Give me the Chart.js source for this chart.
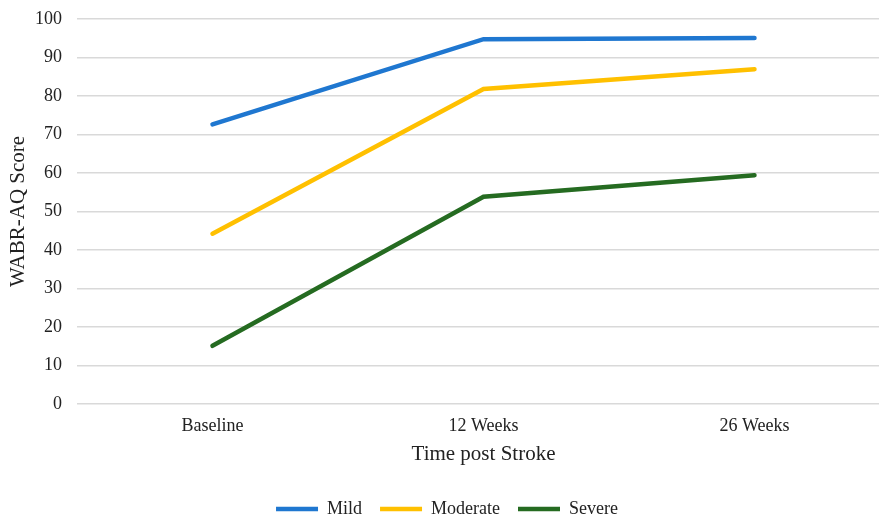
<!DOCTYPE html>
<html>
<head>
<meta charset="utf-8">
<script src="https://cdn.jsdelivr.net/npm/chart.js@4/dist/chart.umd.min.js"></script>
<style>
  html, body { margin: 0; padding: 0; background: #fff; overflow: hidden; }
  #wrap { width: 890px; height: 535px; margin-top: -7px; }
</style>
</head>
<body>
<div id="wrap"><canvas id="chart"></canvas></div>
<script>
const categories = ['Baseline', '12 Weeks', '26 Weeks'];
const mild = [72.6, 94.7, 95.0];
const moderate = [44.2, 81.8, 86.9];
const severe = [15.1, 53.8, 59.4];
const yTicks = [0, 10, 20, 30, 40, 50, 60, 70, 80, 90, 100];

const family = '"Liberation Serif", "Times New Roman", serif';
const tickFont = { family: family, size: 18 };
const titleFont = { family: family, size: 21 };

function series(label, data, color) {
  return {
    label: label,
    data: data,
    borderColor: color,
    backgroundColor: color,
    borderWidth: 4.5,
    borderCapStyle: 'round',
    pointRadius: 0,
    pointHoverRadius: 0,
    tension: 0
  };
}

new Chart(document.getElementById('chart'), {
  type: 'line',
  data: {
    labels: categories,
    datasets: [
      series('Mild', mild, '#1f77d0'),
      series('Moderate', moderate, '#ffc000'),
      series('Severe', severe, '#256b21')
    ]
  },
  options: {
    responsive: true,
    maintainAspectRatio: false,
    animation: false,
    layout: { padding: { left: 4, right: 0, top: 0, bottom: 0 } },
    scales: {
      x: {
        offset: true,
        grid: { display: false },
        border: { display: false },
        ticks: { color: '#222', font: tickFont, padding: 3 },
        title: { display: true, text: 'Time post Stroke', color: '#222', font: titleFont, padding: { top: 0, bottom: 15 } },
        afterFit: scale => { scale.height = 78; }
      },
      y: {
        min: 0,
        max: 100,
        afterBuildTicks: axis => { axis.ticks = yTicks.map(v => ({ value: v })); },
        grid: { color: '#d9d9d9', lineWidth: 1.5, drawTicks: false },
        border: { display: false },
        ticks: { color: '#222', font: tickFont, padding: 15 },
        title: { display: true, text: 'WABR-AQ Score', color: '#222', font: titleFont, padding: { top: 2, bottom: 0 } },
        afterFit: scale => { scale.width = 73; }
      }
    },
    plugins: {
      tooltip: { enabled: false },
      legend: {
        position: 'bottom',
        labels: {
          usePointStyle: true,
          pointStyle: 'line',
          pointStyleWidth: 42,
          color: '#222',
          font: tickFont,
          padding: 18
        }
      }
    }
  }
});
</script>
</body>
</html>
